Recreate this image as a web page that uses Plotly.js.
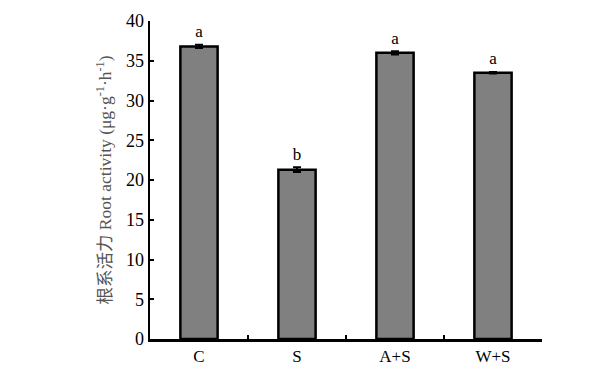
<!DOCTYPE html>
<html>
<head>
<meta charset="utf-8">
<script src="https://cdn.plot.ly/plotly-3.0.1.min.js"></script>
<style>html,body{margin:0;padding:0;background:#fff;}</style>
</head>
<body>
<div id="chart" style="width:616px;height:387px;"></div>
<script>
const categories = ["C", "S", "A+S", "W+S"];
const values = [36.8, 21.3, 36.0, 33.5];
const errors = [0.2, 0.3, 0.2, 0.1];
const letters = ["a", "b", "a", "a"];

const font = "Liberation Serif, Times New Roman, serif";

const bars = {
  type: "bar",
  x: categories,
  y: values,
  width: 0.38,
  marker: {color: "#808080", line: {color: "#000", width: 2.5}},
  error_y: {type: "data", array: errors, visible: true, color: "#000", thickness: 2, width: 4},
  hoverinfo: "skip",
  showlegend: false
};

const labels = {
  type: "scatter",
  mode: "text",
  x: categories,
  y: values.map((v, i) => v + errors[i] + 0.4),
  text: letters,
  textposition: "top center",
  textfont: {family: font, size: 17, color: "#000"},
  cliponaxis: false,
  hoverinfo: "skip",
  showlegend: false
};

const layout = {
  width: 616,
  height: 387,
  margin: {l: 150, r: 74, t: 21, b: 48},
  paper_bgcolor: "#fff",
  plot_bgcolor: "#fff",
  font: {family: font, size: 17, color: "#000"},
  xaxis: {
    type: "category",
    range: [-0.5, 3.5],
    tickson: "boundaries",
    ticks: "inside",
    ticklen: 4,
    tickwidth: 2,
    tickcolor: "#000",
    showline: true,
    linecolor: "#000",
    linewidth: 2.5,
    showgrid: false,
    zeroline: false,
    tickfont: {family: font, size: 17, color: "#000"}
  },
  yaxis: {
    range: [0, 40],
    dtick: 5,
    ticks: "inside",
    ticklen: 4,
    tickwidth: 2,
    tickcolor: "#000",
    showline: true,
    linecolor: "#000",
    linewidth: 2.5,
    showgrid: false,
    zeroline: false,
    tickfont: {family: font, size: 18, color: "#000"},
    title: {
      text: "根系活力 Root activity (μg·g<sup>-1</sup>·h<sup>-1</sup>)",
      font: {family: "Liberation Serif, Noto Sans CJK SC, serif", size: 17.5, color: "#555"},
      standoff: 10
    }
  }
};

Plotly.newPlot("chart", [bars, labels], layout, {displayModeBar: false, staticPlot: true});
</script>
</body>
</html>
